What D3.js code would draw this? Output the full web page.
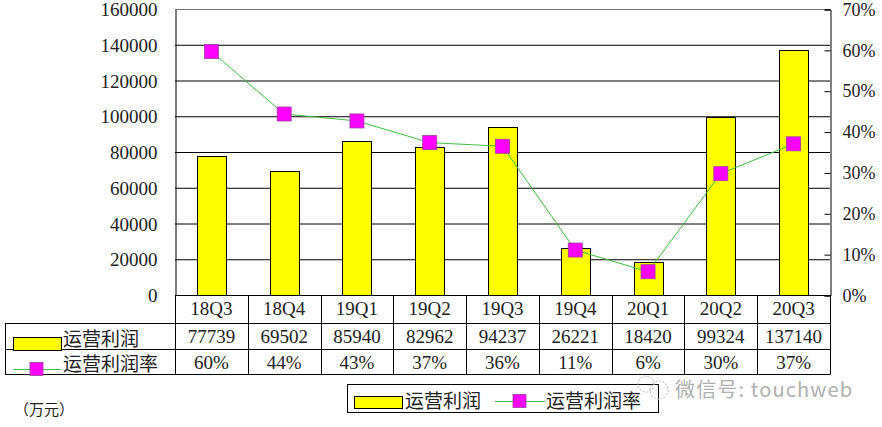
<!DOCTYPE html>
<html>
<head>
<meta charset="utf-8">
<script src="https://cdn.jsdelivr.net/npm/d3@7"></script>
<style>
  body { margin: 0; background: #fff; }
  svg text { font-family: "Liberation Serif", "Noto Sans CJK SC", serif; fill: #222; }
  .cn { font-family: "Noto Sans CJK SC", sans-serif; }
</style>
</head>
<body>
<script>
'use strict';

// data
var quarters = ["18Q3", "18Q4", "19Q1", "19Q2", "19Q3", "19Q4", "20Q1", "20Q2", "20Q3"];
var profit = [77739, 69502, 85940, 82962, 94237, 26221, 18420, 99324, 137140];
var margin = [0.596, 0.443, 0.426, 0.373, 0.364, 0.11, 0.057, 0.297, 0.37];
var leftTicks = [0, 20000, 40000, 60000, 80000, 100000, 120000, 140000, 160000];
var rightTicks = [0, 0.1, 0.2, 0.3, 0.4, 0.5, 0.6, 0.7];
var barName = "运营利润", lineName = "运营利润率";

var width = 882, height = 427,
    x0 = 175, x1 = 830, yTop = 9, yBot = 295;

var svg = d3.select("body").append("svg")
  .attr("width", width)
  .attr("height", height);

var x = d3.scaleBand().domain(quarters).range([x0, x1]);
var yL = d3.scaleLinear().domain([0, 160000]).range([yBot, yTop]);
var yR = d3.scaleLinear().domain([0, 0.7]).range([yBot, yTop]);
var pct = d3.format(".0%");

// gridlines
svg.append("g")
  .selectAll("line")
  .data(leftTicks.slice(1))
  .enter().append("line")
  .attr("x1", x0).attr("x2", x1)
  .attr("y1", function(d) { return yL(d) + 0.5; })
  .attr("y2", function(d) { return yL(d) + 0.5; })
  .attr("stroke", function(d) { return d == 160000 ? "#777" : "#000"; })
  .attr("stroke-width", 1);

// left axis
var gl = svg.append("g")
  .attr("transform", "translate(" + (x0 + 0.5) + ",0.5)")
  .call(d3.axisLeft(yL).tickValues(leftTicks).tickSize(0).tickPadding(18).tickFormat(d3.format("d")));
gl.select(".domain").attr("stroke", "#000");
gl.selectAll("text").attr("font-size", 19).style("font-family", "Liberation Serif").attr("fill", "#222");

// right axis, ticks inside
var gr = svg.append("g")
  .attr("transform", "translate(" + (x1 + 0.5) + ",0.5)")
  .call(d3.axisRight(yR).tickValues(rightTicks).tickSize(-6).tickPadding(12).tickFormat(pct));
gr.select(".domain").attr("stroke", "#000");
gr.selectAll("line").attr("stroke", "#000");
gr.selectAll("text").attr("font-size", 18).style("font-family", "Liberation Serif").attr("fill", "#222");

// bars
var bw = x.bandwidth() * 0.4;
svg.append("g")
  .selectAll("rect")
  .data(profit)
  .enter().append("rect")
  .attr("x", function(d, i) { return Math.round(x(quarters[i]) + (x.bandwidth() - bw) / 2) + 0.5; })
  .attr("y", function(d) { return Math.round(yL(d)) + 0.5; })
  .attr("width", Math.round(bw))
  .attr("height", function(d) { return Math.round(yBot - yL(d)); })
  .attr("fill", "#ffff00")
  .attr("stroke", "#000")
  .attr("stroke-width", 1);

// margin line
var cx = function(i) { return x(quarters[i]) + x.bandwidth() / 2; };
svg.append("path")
  .datum(margin)
  .attr("fill", "none")
  .attr("stroke", "#3fbf3f")
  .attr("stroke-width", 1)
  .attr("d", d3.line().x(function(d, i) { return cx(i); }).y(function(d) { return yR(d); }));

var ms = 14;
svg.append("g")
  .selectAll("rect")
  .data(margin)
  .enter().append("rect")
  .attr("x", function(d, i) { return cx(i) - ms / 2; })
  .attr("y", function(d) { return yR(d) - ms / 2; })
  .attr("width", ms).attr("height", ms)
  .attr("fill", "#ff00ff")
  .attr("stroke", "#a03aa0")
  .attr("stroke-width", 0.8);

// data table under the chart
var rowY = [295, 323, 348.5, 374];
var tbl = svg.append("g").attr("stroke", "#000").attr("stroke-width", 1);
tbl.append("line").attr("x1", x0).attr("x2", x1).attr("y1", rowY[0] + 0.5).attr("y2", rowY[0] + 0.5);
[1, 2, 3].forEach(function(r) {
  tbl.append("line").attr("x1", 5).attr("x2", x1).attr("y1", Math.round(rowY[r]) + 0.5).attr("y2", Math.round(rowY[r]) + 0.5);
});
tbl.append("line").attr("x1", 5.5).attr("x2", 5.5).attr("y1", rowY[1]).attr("y2", rowY[3] + 0.5);
quarters.concat(["end"]).forEach(function(q, i) {
  var xx = i < quarters.length ? x(q) : x1;
  tbl.append("line")
    .attr("x1", Math.round(xx) + 0.5).attr("x2", Math.round(xx) + 0.5)
    .attr("y1", rowY[0]).attr("y2", rowY[3] + 0.5);
});

var txt = svg.append("g").attr("font-size", 19).attr("text-anchor", "middle");
quarters.forEach(function(q, i) {
  txt.append("text").attr("x", cx(i)).attr("y", 315).text(q);
  txt.append("text").attr("x", cx(i)).attr("y", 343).text(profit[i]);
  txt.append("text").attr("x", cx(i)).attr("y", 369).text(pct(margin[i]));
});

// legend keys inside the table
function barKey(g, kx, ky, w, h) {
  g.append("rect").attr("x", kx + 0.5).attr("y", ky + 0.5).attr("width", w).attr("height", h)
    .attr("fill", "#ffff00").attr("stroke", "#000").attr("stroke-width", 1);
}
function lineKey(g, kx, ky, w) {
  g.append("line").attr("x1", kx).attr("x2", kx + w).attr("y1", ky + 0.5).attr("y2", ky + 0.5)
    .attr("stroke", "#3fbf3f").attr("stroke-width", 1);
  g.append("rect").attr("x", kx + w / 2 - 7).attr("y", ky - 6.5).attr("width", 13).attr("height", 13)
    .attr("fill", "#ff00ff").attr("stroke", "#a03aa0").attr("stroke-width", 0.8);
}
barKey(svg, 13, 337, 48, 13);
svg.append("text").attr("class", "cn").attr("x", 63).attr("y", 346).attr("font-size", 19).text(barName);
lineKey(svg, 13, 369, 48);
svg.append("text").attr("class", "cn").attr("x", 63).attr("y", 371).attr("font-size", 19).text(lineName);

svg.append("text").attr("class", "cn").attr("x", 14).attr("y", 415).attr("font-size", 15).text("（万元）");

// bottom legend
var lg = svg.append("g");
lg.append("rect").attr("x", 347.5).attr("y", 384.5).attr("width", 311).attr("height", 28)
  .attr("fill", "#fff").attr("stroke", "#000").attr("stroke-width", 1);
barKey(lg, 354, 396, 48, 12);
lg.append("text").attr("class", "cn").attr("x", 405).attr("y", 408).attr("font-size", 19).text(barName);
lineKey(lg, 495, 401, 50);
lg.append("text").attr("class", "cn").attr("x", 546).attr("y", 408).attr("font-size", 19).text(lineName);

// watermark
var wm = svg.append("g").attr("stroke", "#c8c8c8").attr("fill", "none").attr("stroke-width", 1.2);
wm.append("circle").attr("cx", 646).attr("cy", 384).attr("r", 8).attr("stroke-dasharray", "2,1.5");
wm.append("circle").attr("cx", 659).attr("cy", 390).attr("r", 9).attr("stroke-dasharray", "2,1.5");
svg.append("text").attr("class", "cn").attr("x", 675).attr("y", 397).attr("font-size", 20)
  .attr("textLength", 177).style("fill", "#b0b0b0").text("微信号: touchweb");
</script>
</body>
</html>
